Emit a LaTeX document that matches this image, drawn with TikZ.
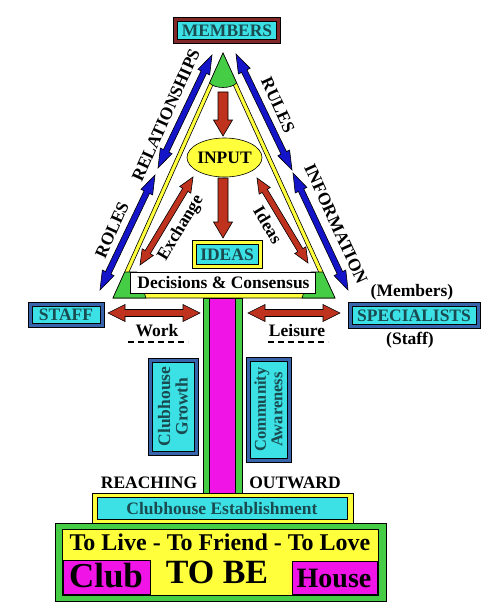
\documentclass[tikz,border=0pt]{standalone}
\usepackage{fontspec}
\setmainfont{Liberation Serif}
\usetikzlibrary{calc,shapes.geometric}
\definecolor{cyanC}{RGB}{60,225,230}
\definecolor{yellowC}{RGB}{255,255,60}
\definecolor{greenC}{RGB}{70,205,70}
\definecolor{magentaC}{RGB}{240,20,230}
\definecolor{blueA}{RGB}{20,20,200}
\definecolor{redA}{RGB}{190,50,30}
\definecolor{frameB}{RGB}{55,100,170}
\definecolor{frameR}{RGB}{130,40,40}
\definecolor{tealT}{RGB}{25,75,80}
\newcommand\fsz[1]{\fontsize{#1}{#1}\selectfont\bfseries}
% double arrow: x1,y1,x2,y2,color,shaft half,head half,head length
\newcommand\darr[8]{%
 \pgfmathsetmacro\dA{atan2(-(#4-#2),#3-#1)}%
 \pgfmathsetmacro\dL{veclen(#3-#1,#4-#2)}%
 \begin{scope}[shift={(#1,#2)},rotate=\dA]
 \filldraw[fill=#5,draw=black,line width=0.6pt] (0,0) -- (#8,#7) -- (#8,#6) -- (\dL-#8,#6) -- (\dL-#8,#7) -- (\dL,0) -- (\dL-#8,-#7) -- (\dL-#8,-#6) -- (#8,-#6) -- (#8,-#7) -- cycle;
 \end{scope}}
% single arrow (down)
\newcommand\sarr[8]{%
 \pgfmathsetmacro\dA{atan2(-(#4-#2),#3-#1)}%
 \pgfmathsetmacro\dL{veclen(#3-#1,#4-#2)}%
 \begin{scope}[shift={(#1,#2)},rotate=\dA]
 \filldraw[fill=#5,draw=black,line width=0.6pt] (0,#6) -- (\dL-#8,#6) -- (\dL-#8,#7) -- (\dL,0) -- (\dL-#8,-#7) -- (\dL-#8,-#6) -- (0,-#6) -- cycle;
 \end{scope}}
\tikzset{
 frame/.style={draw=black,line width=0.6pt,inner sep=0pt},
 lbl/.style={inner sep=0pt,font=\fsz{17.5}},
 tlbl/.style={inner sep=0pt,font=\fsz{17.5},text=tealT},
}
\begin{document}
\begin{tikzpicture}[x=1pt,y=-1pt]
\useasboundingbox[fill=white] (0,0) rectangle (497,615);
% ---------- triangle ----------
\filldraw[fill=yellowC,draw=black,line width=0.6pt] (223,53) -- (113,298) -- (335,298) -- cycle;
\filldraw[fill=white,draw=black,line width=0.6pt] (223,62.6) -- (119.6,293) -- (328.3,293) -- cycle;
\filldraw[fill=greenC,draw=black,line width=0.6pt] (223,53) -- (209.5,83) .. controls (215,89) and (231,89) .. (236.7,83) -- cycle;
\filldraw[fill=greenC,draw=black,line width=0.6pt] (113,298) -- (146,298) -- (137,272) -- (124.7,272) -- cycle;
\filldraw[fill=greenC,draw=black,line width=0.6pt] (335,298) -- (302,298) -- (311,272) -- (323,272) -- cycle;
\node[frame,fill=white,minimum width=185pt,minimum height=21pt] (dec) at (222.5,282.5) {};
\node[lbl] at (223.5,283) {Decisions \& Consensus};
% ---------- pillar ----------
\node[frame,fill=greenC,minimum width=39pt,minimum height=195pt] (pil) at (222.5,395.5) {};
\node[frame,fill=magentaC,minimum width=26pt,minimum height=195pt] (pilm) at (222,395.5) {};
% ---------- MEMBERS ----------
\node[frame,fill=frameR,minimum width=107pt,minimum height=26pt] (memo) at (226.5,30) {};
\node[frame,fill=cyanC,minimum width=99pt,minimum height=18pt] (mem) at (226.5,30) {};
\node[tlbl] at (227,30.5) {MEMBERS};
% ---------- blue arrows ----------
\darr{212}{55}{158}{168}{blueA}{3}{6.5}{19}
\darr{155}{175}{100}{290}{blueA}{3}{6.5}{19}
\darr{236}{54}{292}{170}{blueA}{3}{6.5}{19}
\darr{293}{173}{348}{290}{blueA}{3}{6.5}{19}
\node[lbl,rotate=65.8] at (166,115) {RELATIONSHIPS};
\node[lbl,rotate=65.8] at (112,230) {ROLES};
\node[lbl,rotate=-65.4] at (278,105) {RULES};
\node[lbl,rotate=-65.4] at (336,224) {INFORMATION};
% ---------- inner ----------
\node[frame,ellipse,fill=yellowC,minimum width=75pt,minimum height=39pt] (inp) at (224.5,157.5) {};
\node[lbl] at (224.5,158) {INPUT};
\node[frame,fill=yellowC,minimum width=70pt,minimum height=28pt] (ideo) at (227,254) {};
\node[frame,fill=cyanC,minimum width=62pt,minimum height=20pt] (ide) at (227,254) {};
\node[tlbl] at (227,254.5) {IDEAS};
\sarr{223}{92}{223}{136}{redA}{5}{9.5}{16}
\sarr{223}{178}{223}{238}{redA}{5}{9.5}{16}
\darr{193}{177}{140}{265}{redA}{3}{6.5}{15}
\darr{257}{178}{308}{263}{redA}{3}{6.5}{15}
\node[lbl,rotate=59] at (181,228) {Exchange};
\node[lbl,rotate=-59] at (268,225) {Ideas};
% ---------- STAFF / SPECIALISTS ----------
\node[frame,fill=frameB,minimum width=76pt,minimum height=25pt] (stafo) at (66,314.5) {};
\node[frame,fill=cyanC,minimum width=68pt,minimum height=17pt] (staf) at (66,314.5) {};
\node[tlbl] at (66,315) {STAFF};
\node[frame,fill=frameB,minimum width=132pt,minimum height=26pt] (speco) at (414,315) {};
\node[frame,fill=cyanC,minimum width=124pt,minimum height=18pt] (spec) at (414,315) {};
\node[tlbl] at (414,315.5) {SPECIALISTS};
\node[lbl] at (412,292) {(Members)};
\node[lbl] at (410,340) {(Staff)};
\darr{108}{313}{200}{313}{redA}{3.5}{8.5}{17}
\darr{248}{313}{340}{313}{redA}{3.5}{8.5}{17}
\node[lbl] (work) at (157,331) {Work};
\node[lbl] (leis) at (297,331) {Leisure};
\draw[line width=1.4pt,dash pattern=on 6pt off 4pt] (128,342) -- (188,342);
\draw[line width=1.4pt,dash pattern=on 6pt off 4pt] (268,342) -- (328,342);
% ---------- vertical boxes ----------
\node[frame,fill=frameB,minimum width=50pt,minimum height=97pt] (cgo) at (173,406.5) {};
\node[frame,fill=cyanC,minimum width=42pt,minimum height=89pt] (cg) at (173,406.5) {};
\node[inner sep=0pt,font=\fsz{17.5},text=tealT,rotate=90,align=center] at (173,406.5) {\fontsize{17.5}{15}\selectfont Clubhouse\\Growth};
\node[frame,fill=frameB,minimum width=45pt,minimum height=105pt] (cao) at (268.5,409.5) {};
\node[frame,fill=cyanC,minimum width=37pt,minimum height=97pt] (ca) at (268.5,409.5) {};
\node[inner sep=0pt,font=\fsz{16.5},text=tealT,rotate=90,align=center] at (268.5,409.5) {\fontsize{16.5}{15}\selectfont Community\\Awareness};
\node[lbl] at (149,483) {REACHING};
\node[lbl] at (295,483) {OUTWARD};
% ---------- base ----------
\node[frame,fill=yellowC,minimum width=261pt,minimum height=30pt] (esto) at (222.5,508) {};
\node[frame,fill=cyanC,minimum width=250pt,minimum height=22pt] (est) at (222,508) {};
\node[tlbl] at (222,508.5) {Clubhouse Establishment};
\node[frame,fill=greenC,minimum width=331pt,minimum height=78pt] (baseo) at (220.5,562) {};
\node[frame,fill=yellowC,minimum width=316pt,minimum height=66pt] (base) at (220,562) {};
\node[frame,fill=magentaC,minimum width=87pt,minimum height=34pt] (club) at (106.5,577) {};
\node[frame,fill=magentaC,minimum width=85pt,minimum height=33pt] (house) at (334.5,577.5) {};
\node[inner sep=0pt,font=\fsz{24}] at (220,542) {To Live - To Friend - To Love};
\node[inner sep=0pt,font=\fsz{34}] at (217,572) {TO BE};
\node[inner sep=0pt,font=\fsz{35}] at (106,576) {Club};
\node[inner sep=0pt,font=\fsz{28}] at (334,578) {House};
\end{tikzpicture}
\end{document}
